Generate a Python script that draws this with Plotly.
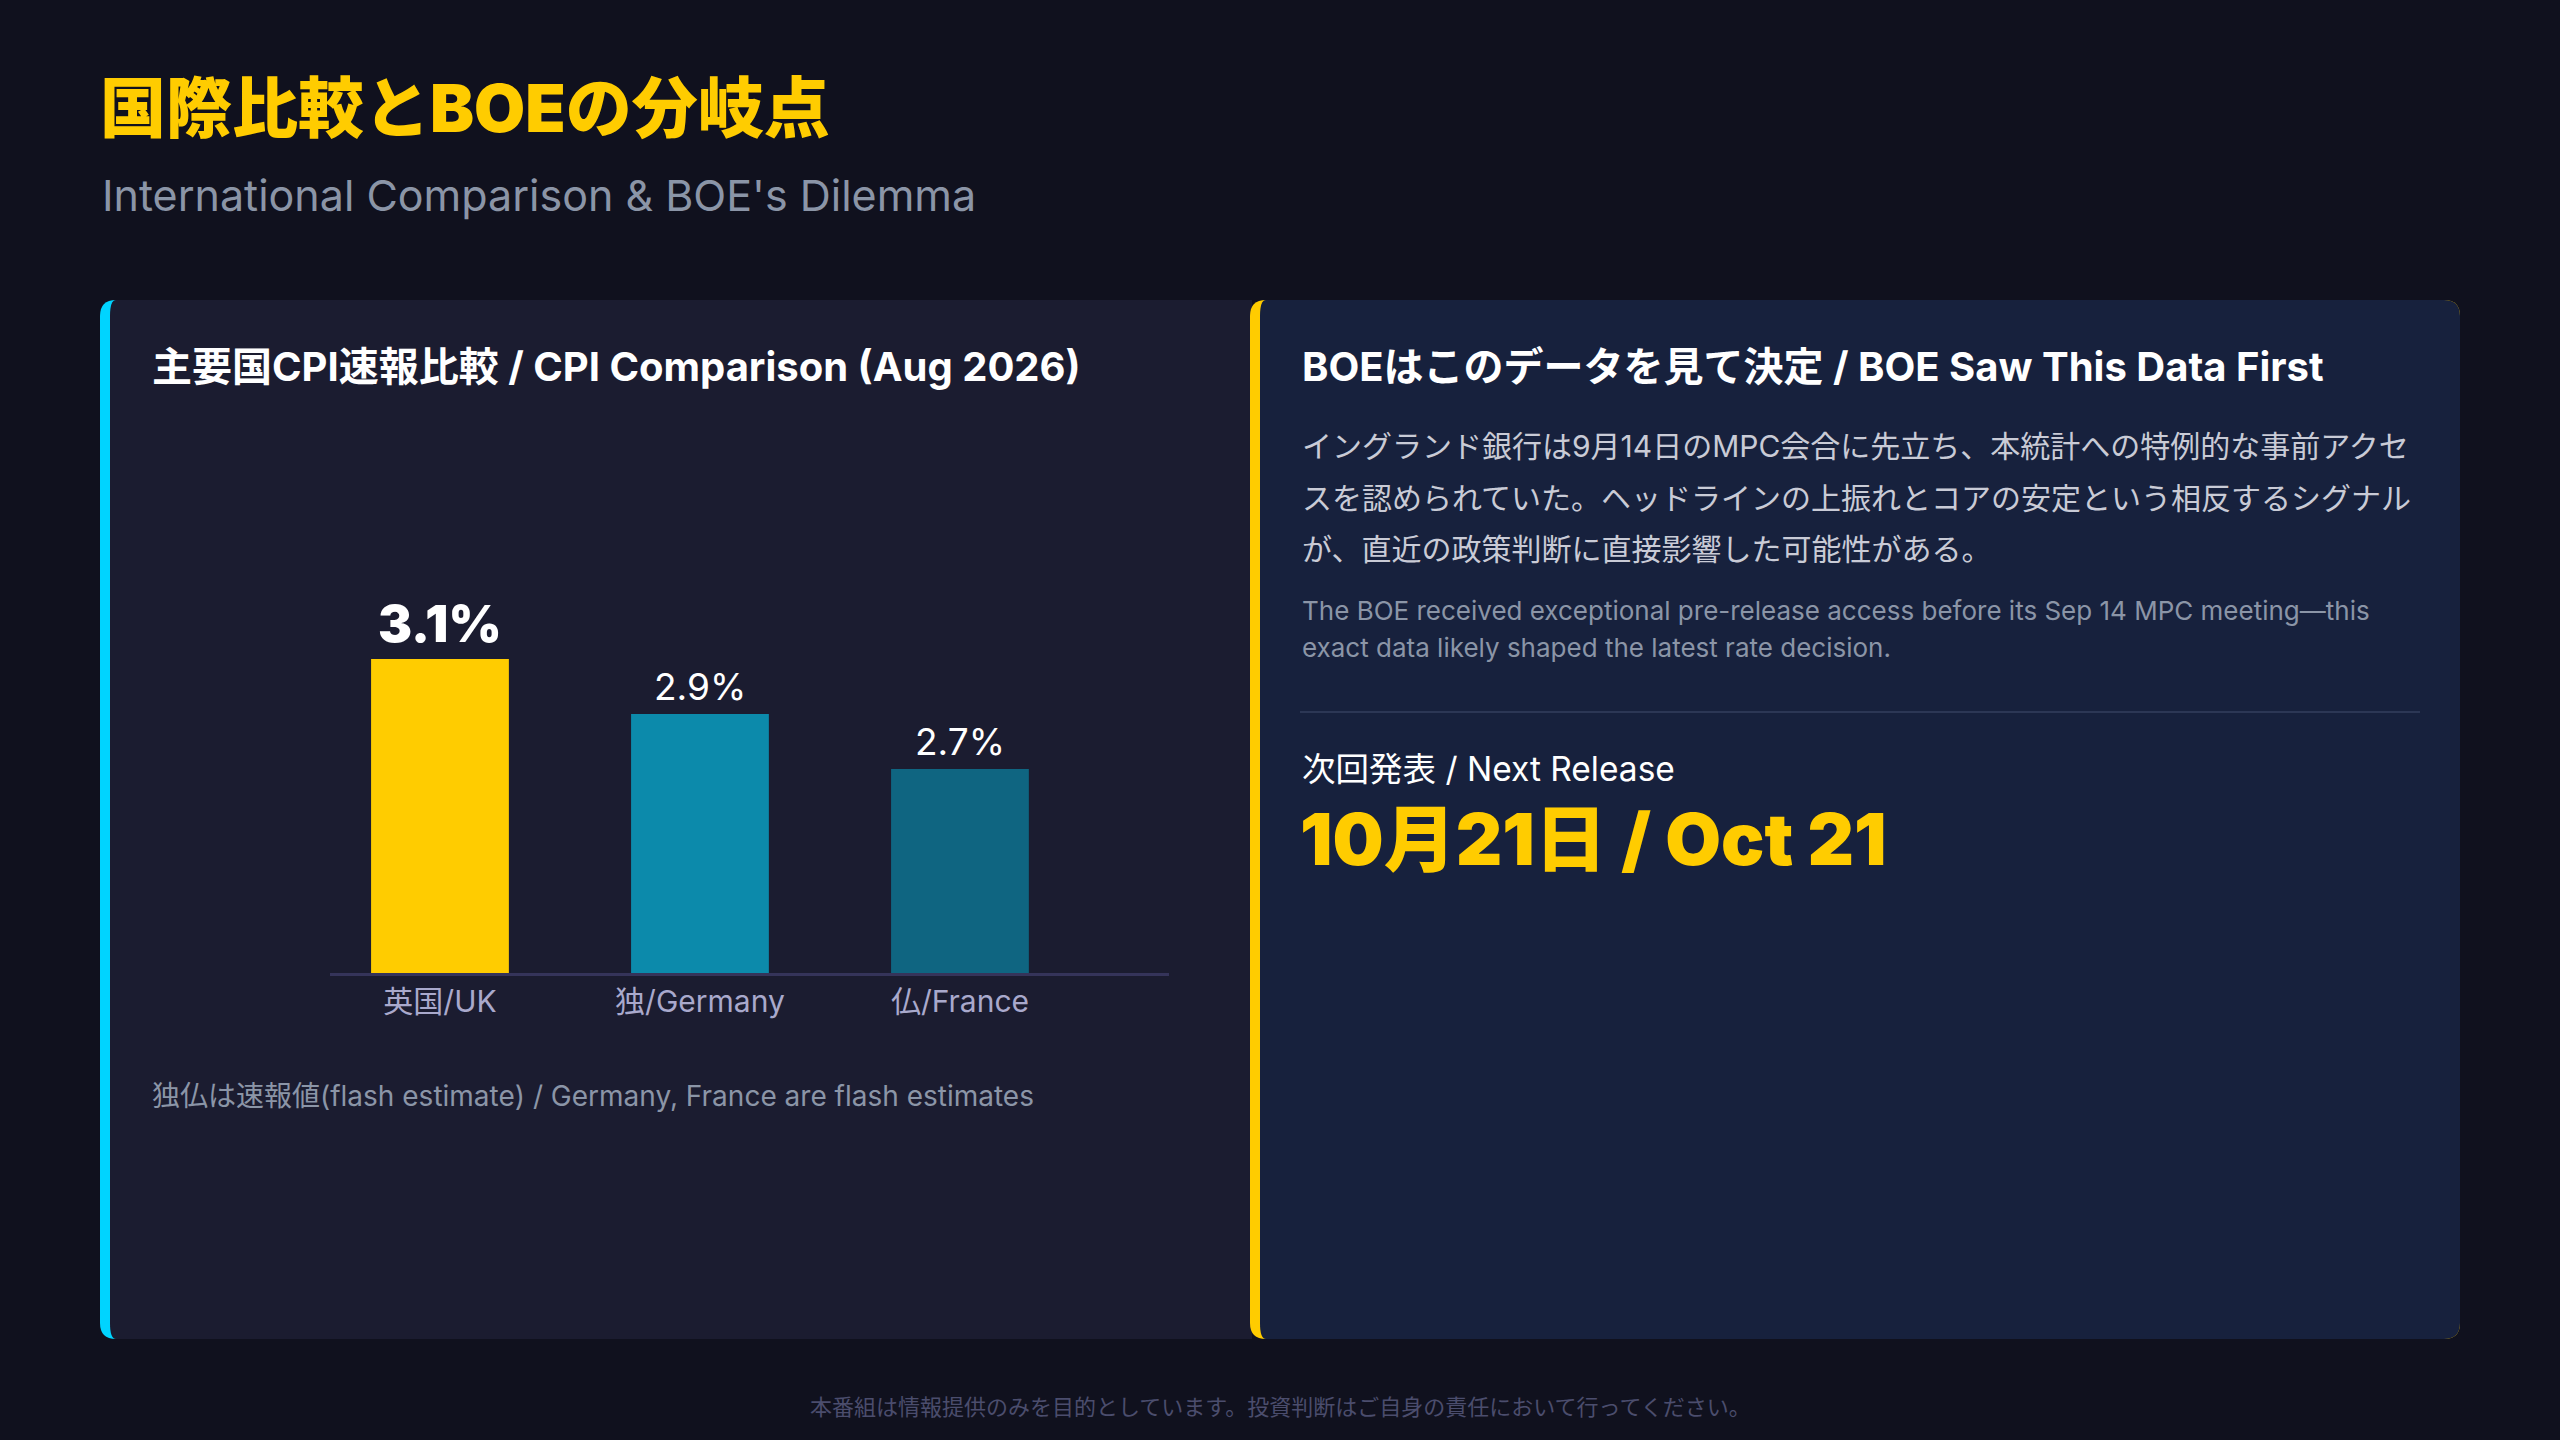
import plotly.graph_objects as go

W, H = 2560, 1440
FONT = "Inter, Noto Sans CJK JP"

# ---------------- data ----------------
categories = ["英国/UK", "独/Germany", "仏/France"]
cpi_values = [3.1, 2.9, 2.7]
bar_colors = ["#FFCC00", "#0C8AAB", "#0F6581"]
label_sizes = [51, 37, 37]
label_weights = [900, 400, 400]

title_text = "国際比較とBOEの分岐点"
subtitle_text = "International Comparison & BOE's Dilemma"
left_title = "主要国CPI速報比較 / CPI Comparison (Aug 2026)"
left_note = "独仏は速報値(flash estimate) / Germany, France are flash estimates"
right_title = "BOEはこのデータを見て決定 / BOE Saw This Data First"
jp_lines = [
    "イングランド銀行は9月14日のMPC会合に先立ち、本統計への特例的な事前アクセ",
    "スを認められていた。ヘッドラインの上振れとコアの安定という相反するシグナル",
    "が、直近の政策判断に直接影響した可能性がある。",
]
en_lines = [
    "The BOE received exceptional pre-release access before its Sep 14 MPC meeting\u2014this",
    "exact data likely shaped the latest rate decision.",
]
next_label = "次回発表 / Next Release"
next_date = "10月21日 / Oct 21"
footer_text = "本番組は情報提供のみを目的としています。投資判断はご自身の責任において行ってください。"

# ---------------- helpers ----------------
def px(x):
    return x / W

def py(y):
    return 1 - y / H

def P(x, y):
    return f"{px(x):.6f},{py(y):.6f}"

def rounded(x0, y0, x1, y1, tl=(0, 0), tr=(0, 0), br=(0, 0), bl=(0, 0)):
    return (
        f"M {P(x0 + tl[0], y0)} L {P(x1 - tr[0], y0)} Q {P(x1, y0)} {P(x1, y0 + tr[1])} "
        f"L {P(x1, y1 - br[1])} Q {P(x1, y1)} {P(x1 - br[0], y1)} "
        f"L {P(x0 + bl[0], y1)} Q {P(x0, y1)} {P(x0, y1 - bl[1])} "
        f"L {P(x0, y0 + tl[1])} Q {P(x0, y0)} {P(x0 + tl[0], y0)} Z"
    )

def shape_path(path, color):
    return dict(type="path", path=path, xref="paper", yref="paper",
                fillcolor=color, line=dict(width=0), layer="below")

def text(t, x, y, size, color, weight=400, xanchor="left"):
    return dict(text=t, x=px(x), y=py(y), xref="paper", yref="paper",
                xanchor=xanchor, yanchor="middle", showarrow=False,
                font=dict(family=FONT, size=size, color=color, weight=weight))

R = 16
shapes = [
    # left panel (cyan accent + body)
    shape_path(rounded(100, 300, 1252, 1339, tl=(R, R), bl=(R, R)), "#00D4FF"),
    shape_path(rounded(110, 300, 1252, 1339, tl=(6, R), bl=(6, R)), "#1B1C30"),
    # right panel (yellow accent + body)
    shape_path(rounded(1250, 300, 2460, 1339, tl=(R, R), tr=(R, R), br=(R, R), bl=(R, R)), "#FFCC00"),
    shape_path(rounded(1260, 300, 2460, 1339, tl=(6, R), tr=(R, R), br=(R, R), bl=(6, R)), "#17213D"),
    # divider
    dict(type="line", xref="paper", yref="paper", x0=px(1300), x1=px(2420), y0=py(712), y1=py(712),
         line=dict(color="#2C3755", width=2), layer="below"),
]

annotations = [
    text(title_text, 98, 108, 66, "#FFCC00", 900),
    text(subtitle_text, 100, 195, 43, "#8B95A7"),
    text(left_title, 150, 366, 40, "#FFFFFF", 700),
    text(left_note, 150, 1096, 28, "#8B95A7"),
    text(right_title, 1300, 366, 40, "#FFFFFF", 700),
    text(next_label, 1300, 769, 33.5, "#FFFFFF"),
    text(next_date, 1298, 838, 72, "#FFCC00", 900),
    text(footer_text, 1280, 1407, 22, "#4B4D6D", xanchor="center"),
]
for i, line in enumerate(jp_lines):
    annotations.append(text(line, 1300, 446 + i * 51.5, 30, "#C9CBD6"))
for i, line in enumerate(en_lines):
    annotations.append(text(line, 1300, 611 + i * 36, 26, "#8B95A7"))

# value labels above bars (data coordinates)
for c, v, s, w in zip(categories, cpi_values, label_sizes, label_weights):
    annotations.append(dict(text=f"{v}%", x=c, y=v, xref="x", yref="y",
                            xanchor="center", yanchor="bottom", yshift=3, showarrow=False,
                            font=dict(family=FONT, size=s, color="#FFFFFF", weight=w)))

fig = go.Figure(go.Bar(
    x=categories, y=cpi_values, marker=dict(color=bar_colors, line=dict(width=0)),
    width=0.53, hoverinfo="skip",
))

fig.update_layout(
    width=W, height=H, autosize=False,
    margin=dict(l=0, r=0, t=0, b=0, pad=0),
    paper_bgcolor="#10111E", plot_bgcolor="rgba(0,0,0,0)",
    showlegend=False,
    shapes=shapes, annotations=annotations,
    xaxis=dict(domain=[px(330), px(1169)], range=[-0.423, 2.804], showgrid=False, zeroline=False,
               showline=True, linecolor="#35345A", linewidth=3, ticks="",
               tickfont=dict(family=FONT, size=30, color="#A9A9CC"), fixedrange=True),
    yaxis=dict(domain=[py(973), py(560)], range=[1.958, 3.46], visible=False, fixedrange=True),
)

fig.write_html("out.html", config={"displayModeBar": False},
               post_script="document.body.style.margin='0';document.body.style.overflow='hidden';")
